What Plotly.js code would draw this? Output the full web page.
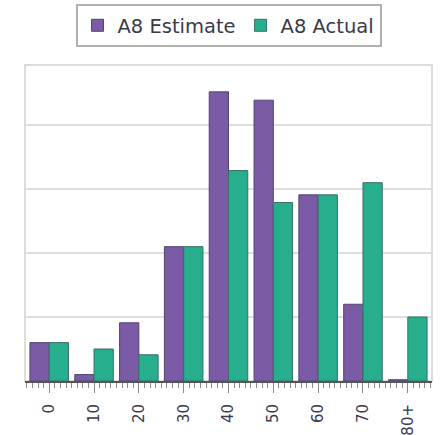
<!DOCTYPE html>
<html>
<head>
<meta charset="utf-8">
<script src="https://cdn.plot.ly/plotly-3.0.1.min.js"></script>
<style>html,body{margin:0;padding:0;background:#fff;}#chart{width:443px;height:435px;}</style>
</head>
<body>
<div id="chart"></div>
<script>
// Data (gridline step = 5)
const ageGroups = [0, 10, 20, 30, 40, 50, 60, 70, 80];
const tickLabels = ["0", "10", "20", "30", "40", "50", "60", "70", "80+"];
const estimateValues = [3.0, 0.5, 4.55, 10.5, 22.6, 21.95, 14.55, 6.0, 0.1];
const actualValues = [3.0, 2.5, 2.05, 10.5, 16.45, 13.95, 14.55, 15.5, 5.0];

const traces = [
  {
    type: "bar", name: "A8 Estimate", x: ageGroups, y: estimateValues,
    marker: { color: "#7b5ba6", line: { color: "#4f4670", width: 1 } },
    hoverinfo: "skip"
  },
  {
    type: "bar", name: "A8 Actual", x: ageGroups, y: actualValues,
    marker: { color: "#27ae8c", line: { color: "#3b6e68", width: 1 } },
    hoverinfo: "skip"
  }
];

const layout = {
  width: 443, height: 435,
  margin: { l: 25, r: 11, t: 65, b: 53.5, autoexpand: false },
  paper_bgcolor: "#fff", plot_bgcolor: "#fff",
  barmode: "group", bargap: 0.14, bargroupgap: 0,
  font: { family: "DejaVu Sans, Tahoma, sans-serif", color: "#3a3a4a" },
  showlegend: true,
  legend: {
    orientation: "h", x: 0.5, xanchor: "center", y: 1.1927, yanchor: "top",
    bordercolor: "#b0b0b0", borderwidth: 2, bgcolor: "#fff",
    font: { size: 19.5, family: "DejaVu Sans, Tahoma, sans-serif", color: "#3a3a4a" },
    itemwidth: 30, tracegroupgap: 0
  },
  xaxis: {
    type: "linear", range: [-5.4, 85.4],
    tickmode: "array", tickvals: ageGroups, ticktext: tickLabels,
    tickangle: -90, tickfont: { size: 15, color: "#3a3a4a" },
    ticks: "outside", ticklen: 10, tickcolor: "#8a8a8a", tickwidth: 1,
    ticklabelstandoff: 5,
    minor: { dtick: 1.25, tick0: 0, ticks: "outside", ticklen: 5, tickcolor: "#8a8a8a", tickwidth: 1, showgrid: false },
    showline: true, linecolor: "#555", linewidth: 2,
    showgrid: false, zeroline: false, fixedrange: true
  },
  yaxis: {
    range: [0, 24.7], dtick: 5, tick0: 0,
    showticklabels: false, ticks: "",
    showgrid: true, gridcolor: "#dedede", gridwidth: 1.5,
    zeroline: false, showline: false, fixedrange: true
  },
  shapes: [
    { type: "rect", xref: "paper", yref: "paper", x0: 0, x1: 1, y0: 0, y1: 1,
      line: { color: "#dcdcdc", width: 2 }, layer: "below" }
  ]
};

Plotly.newPlot("chart", traces, layout, { displayModeBar: false, staticPlot: true });
</script>
</body>
</html>
